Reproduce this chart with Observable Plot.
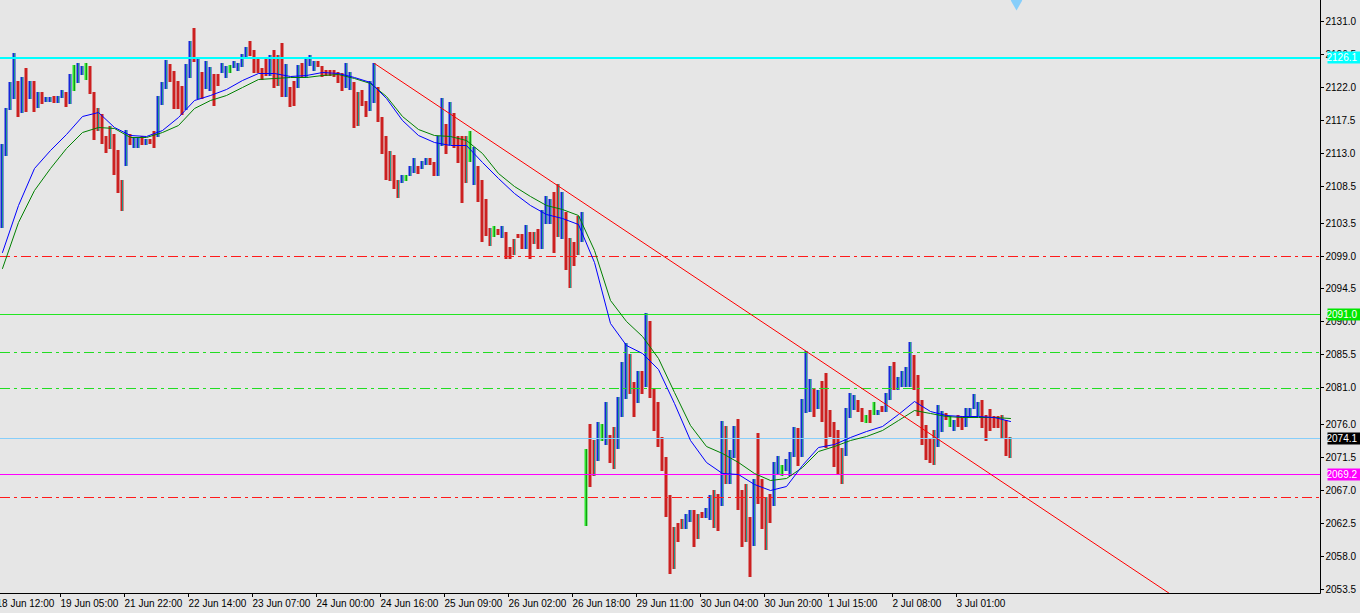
<!DOCTYPE html>
<html><head><meta charset="utf-8">
<script src="https://cdn.jsdelivr.net/npm/d3@7"></script>
<script src="https://cdn.jsdelivr.net/npm/@observablehq/plot@0.6"></script>
<style>
html,body{margin:0;padding:0;background:#e6e6e6;overflow:hidden}
</style></head><body><div id="chart"></div>
<script>
// ---- bar data (hourly bars, index 0 = first visible bar) ----
const highs = [
2114.2,2119.1,2122.7,2126.6,2122.8,2123.4,2124.6,2122.8,2122.8,2121.3,
2121.3,2120.6,2120.6,2120.8,2120.8,2121.6,2121.3,2123.8,2125.0,2125.3,
2124.9,2125.3,2124.9,2121.3,2119.1,2118.3,2115.3,2116.7,2115.6,2113.4,
2109.3,2116.1,2115.6,2115.2,2115.2,2115.3,2114.9,2114.9,2116.0,2120.8,
2122.7,2125.7,2125.1,2124.2,2122.8,2122.1,2125.1,2128.3,2130.0,2126.0,
2124.0,2125.5,2124.7,2123.8,2123.8,2125.3,2124.9,2125.0,2125.5,2125.3,
2126.5,2127.4,2128.3,2127.0,2126.0,2124.6,2125.8,2126.4,2127.0,2126.4,
2128.0,2125.1,2122.0,2122.8,2125.0,2125.3,2125.8,2126.4,2125.5,2125.5,
2124.9,2124.3,2124.3,2124.3,2124.0,2123.9,2125.3,2124.0,2122.7,2121.3,
2121.6,2120.1,2122.8,2125.3,2122.0,2117.9,2115.3,2113.3,2112.7,2109.3,
2110.0,2110.0,2111.2,2112.3,2111.2,2111.9,2112.3,2112.3,2111.8,2115.3,
2120.5,2117.0,2120.0,2118.4,2115.3,2115.3,2115.3,2116.0,2113.8,2111.2,
2109.3,2106.7,2102.8,2103.0,2102.6,2103.0,2102.2,2100.2,2101.3,2101.9,
2101.9,2103.2,2102.2,2102.2,2102.6,2105.2,2107.1,2106.7,2107.7,2108.8,
2107.7,2104.9,2101.4,2100.8,2104.4,2104.9,2072.6,2076.0,2073.8,2076.3,
2076.0,2079.0,2074.5,2075.6,2079.7,2084.5,2087.1,2085.6,2081.7,2083.3,
2083.3,2091.2,2090.1,2080.9,2079.0,2074.2,2071.5,2066.3,2062.0,2062.5,
2063.0,2063.7,2064.3,2064.3,2063.7,2064.0,2064.5,2066.3,2067.0,2066.5,
2076.4,2075.7,2072.5,2075.7,2076.7,2067.0,2067.8,2063.3,2068.5,2074.8,
2068.5,2066.0,2066.5,2070.8,2071.6,2070.4,2071.2,2072.2,2075.6,2075.5,
2079.4,2086.0,2082.2,2080.9,2080.7,2081.9,2083.0,2077.9,2076.3,2075.2,
2072.7,2078.2,2080.2,2080.0,2079.3,2078.2,2077.2,2077.9,2079.0,2077.9,
2078.5,2080.2,2083.9,2084.5,2082.4,2083.3,2083.8,2087.2,2085.4,2082.7,
2079.3,2075.9,2074.1,2075.2,2078.6,2077.8,2077.5,2077.1,2076.6,2077.2,
2077.1,2078.2,2078.2,2080.1,2079.0,2079.3,2077.2,2078.1,2077.1,2077.1,
2077.2,2076.6,2074.2];
const lows = [
2102.8,2112.6,2118.9,2120.4,2117.9,2118.4,2118.6,2120.4,2118.6,2119.1,
2119.7,2120.0,2120.0,2119.8,2119.8,2120.5,2119.3,2119.7,2121.4,2122.5,
2123.6,2123.0,2121.0,2114.8,2116.0,2114.2,2113.0,2113.5,2110.0,2107.5,
2105.1,2111.2,2114.1,2113.7,2113.7,2114.1,2114.1,2114.2,2113.7,2115.2,
2119.5,2121.7,2122.7,2119.0,2119.0,2118.2,2118.9,2123.2,2125.4,2120.4,
2120.4,2121.7,2121.4,2119.4,2122.1,2123.9,2123.2,2123.9,2124.6,2124.2,
2124.7,2126.0,2126.2,2123.9,2123.9,2123.0,2123.5,2123.5,2121.9,2122.1,
2120.6,2120.6,2119.3,2119.4,2121.9,2123.4,2123.2,2124.9,2124.2,2124.7,
2123.4,2123.5,2123.5,2123.4,2122.5,2121.4,2121.9,2121.6,2116.4,2116.7,
2119.4,2117.9,2118.7,2119.8,2117.2,2112.8,2109.3,2109.2,2108.1,2106.9,
2108.9,2109.2,2109.9,2110.3,2110.1,2110.8,2111.4,2111.4,2109.9,2109.9,
2113.9,2112.8,2114.1,2113.7,2111.6,2106.2,2108.9,2111.8,2108.6,2106.3,
2100.8,2101.7,2100.3,2101.5,2101.8,2101.4,2098.5,2098.5,2099.1,2101.4,
2099.9,2099.9,2098.5,2100.6,2099.9,2099.9,2103.3,2103.3,2099.4,2101.5,
2101.3,2097.0,2094.6,2097.6,2099.1,2100.8,2062.1,2067.4,2068.9,2071.0,
2073.7,2073.1,2070.7,2069.9,2072.6,2077.0,2079.4,2080.1,2077.0,2078.9,
2080.1,2081.1,2079.6,2075.1,2072.9,2069.6,2063.3,2055.6,2056.2,2059.9,
2061.7,2061.7,2062.6,2059.2,2060.3,2063.2,2063.2,2062.9,2061.8,2061.4,
2064.8,2067.8,2067.8,2071.4,2064.3,2059.2,2059.9,2055.1,2059.4,2065.1,
2061.7,2058.8,2062.5,2064.8,2069.2,2068.9,2069.6,2068.9,2071.5,2070.3,
2071.5,2077.5,2077.6,2077.0,2078.1,2076.3,2072.7,2074.2,2070.1,2069.2,
2067.8,2071.6,2076.8,2077.9,2077.6,2076.3,2076.2,2076.2,2077.2,2077.2,
2077.6,2077.6,2079.3,2080.7,2080.7,2081.1,2081.1,2081.1,2080.7,2077.1,
2073.1,2071.1,2070.7,2070.4,2072.9,2074.9,2076.6,2075.6,2075.1,2075.6,
2075.2,2075.6,2077.1,2078.1,2077.1,2075.5,2073.7,2075.1,2075.5,2075.5,
2074.1,2071.6,2071.4];
// U = up (blue), D = down (red), T = down with teal core, G = small green bar
const kinds = (
"UUUUDUDUDU"+"DUUDUUDUGU"+"UGDDTDDTDD"+"TUDUUDUDDU"+"UUDDDDUUDU"+
"DUUDDUUGUU"+"UUDDDDDUDT"+"DUDDUDUUUD"+"DDDDDDUUDT"+"DDUUDDDTDT"+
"UGUUDUUDDU"+"UDUDDDTGUD"+"DDTGDUDDTD"+"DUDTDUUUDT"+"UDTDTUGDTU"+
"GUDTUUUTDU"+"DUDDDDDDTD"+"TUUDTDUUTD"+"UTUUDDTDUD"+"DTDUUGUUUD"+
"UUUDUDDDDD"+"TUUUDDGDGU"+"DUUDUUUUDD"+"DDDTUUDGUD"+"DUUUUDDDDD"+"TDT").split("");

// ---- moving averages, read every 4th bar ----
const maStep = 4;
const maBlue = [2099.5,2105.9,2110.9,2113.4,2115.6,2118.0,2118.6,2116.5,2115.4,2115.3,
2116.1,2117.9,2120.2,2120.9,2121.7,2123.0,2123.9,2123.9,2123.5,2123.6,
2124.0,2123.9,2123.4,2122.7,2120.5,2117.5,2115.4,2114.5,2114.1,2114.1,
2111.8,2109.6,2107.5,2105.9,2104.7,2104.1,2103.3,2098.1,2089.8,2086.8,
2085.7,2083.5,2078.9,2073.8,2070.8,2069.3,2069.2,2067.8,2067.0,2067.5,
2070.4,2072.9,2073.3,2074.2,2075.1,2075.7,2077.4,2079.2,2077.8,2077.2,
2077.1,2077.1,2077.0,2076.4];
const maGreen = [2097.3,2103.6,2107.9,2110.9,2113.7,2115.9,2116.5,2116.4,2115.2,2115.2,
2115.9,2116.8,2119.1,2120.2,2120.9,2122.0,2123.1,2123.2,2123.4,2123.4,
2123.6,2123.8,2123.2,2122.5,2120.8,2118.0,2116.3,2115.4,2115.3,2114.8,
2113.0,2110.3,2108.5,2107.1,2105.9,2105.3,2104.5,2099.8,2092.9,2090.1,
2088.0,2085.0,2080.4,2075.9,2073.0,2072.1,2070.8,2069.3,2068.4,2068.6,
2070.1,2072.3,2073.0,2073.8,2074.4,2075.2,2076.6,2077.9,2077.5,2077.1,
2076.9,2076.9,2076.9,2076.8];

// ---- trend line (bar index, price) ----
const trendIdx = [93, 300];
const trendVal = [2125.3, 2049.95];

// ---- horizontal levels ----
const solidLevels = [2126.1, 2091.0, 2074.1, 2069.2];
const solidColors = ["#00ffff", "#22e622", "#87cefa", "#ff00ff"];
const solidWidths = [2, 1, 1, 1];
const solidBoxes  = ["#00ffff", "#00e600", "#000000", "#ff00ff"];
const dashLevels = [2098.9, 2085.8, 2080.9, 2066.0];
const dashColors = ["#ff1a1a", "#22dd22", "#22dd22", "#ff1a1a"];

// ---- axes ----
const yTicks = [2131.0,2126.5,2122.0,2117.5,2113.0,2108.5,2103.5,2099.0,2094.5,2090.0,
2085.5,2081.0,2076.0,2071.5,2067.0,2062.5,2058.0,2053.5];
const xTickIdx = [-2,14,30,46,62,78,94,110,126,142,158,174,190,206,222,238];
const xTickLabels = ["18 Jun 12:00","19 Jun 05:00","21 Jun 22:00","22 Jun 14:00","23 Jun 07:00",
"24 Jun 00:00","24 Jun 16:00","25 Jun 09:00","26 Jun 02:00","26 Jun 18:00","29 Jun 11:00",
"30 Jun 04:00","30 Jun 20:00","1 Jul 15:00","2 Jul 08:00","3 Jul 01:00"];
const shiftMarker = [253.5];

// ---- build ----
const bars = highs.map((h, i) => ({i, h, l: lows[i], k: kinds[i]}));
const bodyColor = {U: "#1426d8", D: "#cc2020", T: "#cc2020", G: "#2ee62e"};
const coreColor = {U: "#1f9a8a", T: "#1f9a8a", G: "#169a16"};
const maB = maBlue.map((v, k) => ({i: k * maStep, v}));
const maG = maGreen.map((v, k) => ({i: k * maStep, v}));
const trend = trendIdx.map((i, k) => ({i, v: trendVal[k]}));
const solid = solidLevels.map((v, k) => ({v, c: solidColors[k], w: solidWidths[k], b: solidBoxes[k]}));
const dashed = dashLevels.map((v, k) => ({v, c: dashColors[k]}));

const chart = Plot.plot({
  width: 1360, height: 613,
  marginLeft: 0, marginRight: 40, marginTop: 0, marginBottom: 20,
  style: {background: "#e6e6e6", fontFamily: "Liberation Sans, Arial, sans-serif", fontSize: "10px", color: "#000"},
  x: {domain: [-0.5, 329.5], label: null},
  y: {domain: [2052.95, 2133.865], label: null, round: true},
  color: {type: "identity"},
  marks: [
    Plot.rect(bars, {x1: d => d.i - 0.375, x2: d => d.i + 0.375, y1: "l", y2: "h", fill: d => bodyColor[d.k]}),
    Plot.ruleX(bars.filter(d => d.k !== "D"), {x: "i", y1: "l", y2: "h", stroke: d => coreColor[d.k], strokeWidth: 1}),
    Plot.ruleY(dashed, {y: "v", stroke: "c", strokeWidth: 1, strokeDasharray: "10,4,3,4"}),
    Plot.ruleY(solid.filter(d => d.w === 1), {y: "v", stroke: "c", strokeWidth: 1}),
    Plot.ruleY(solid.filter(d => d.w === 2), {y: "v", stroke: "c", strokeWidth: 2, dy: 0.5}),
    Plot.line(maG, {x: "i", y: "v", stroke: "#008000", strokeWidth: 1}),
    Plot.line(maB, {x: "i", y: "v", stroke: "#0000ff", strokeWidth: 1}),
    Plot.line(trend, {x: "i", y: "v", stroke: "#ff0000", strokeWidth: 1, clip: true}),
    Plot.dot(shiftMarker, {x: d => d, frameAnchor: "top", symbol: "diamond", r: 6, fill: "#87cefa", stroke: null}),
    Plot.axisY({anchor: "right", ticks: yTicks, tickFormat: d => d.toFixed(1), tickSize: 3, tickPadding: 2, label: null}),
    Plot.axisX({anchor: "bottom", ticks: xTickIdx, tickFormat: d => xTickLabels[xTickIdx.indexOf(d)], textAnchor: "start", dx: 2, tickSize: 4, tickPadding: 2, label: null}),
    Plot.text(solid, {y: "v", text: d => d.v.toFixed(1), frameAnchor: "right", dx: 6, textAnchor: "start", fill: "white", className: "lvl"})
  ]
});
document.getElementById("chart").appendChild(chart);

// frame lines (right and bottom) and label boxes
const sx = chart.scale("x"), sy = chart.scale("y");
const xr = sx.range[1], yb = sy.range[0];
const svg = d3.select(chart);
svg.append("line").attr("x1", 0).attr("x2", xr + 0.5).attr("y1", yb + 0.5).attr("y2", yb + 0.5).attr("stroke", "#000");
svg.append("line").attr("x1", xr + 0.5).attr("x2", xr + 0.5).attr("y1", 0).attr("y2", yb + 0.5).attr("stroke", "#000");
svg.selectAll("g.lvl text").each(function(_, k) {
  const yy = sy.apply(solid[k].v);
  d3.select(this.parentNode).insert("rect", () => this)
    .attr("x", xr + 1).attr("y", Math.round(yy) - 6).attr("width", 36).attr("height", 12)
    .attr("fill", solid[k].b);
});
</script>
</body></html>
